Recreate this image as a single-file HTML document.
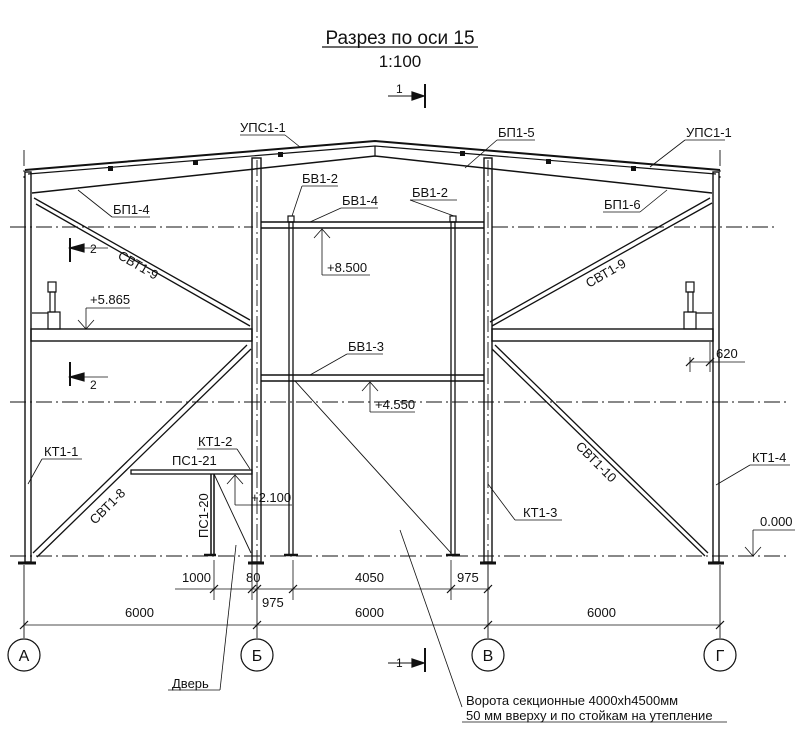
<!DOCTYPE html>
<html><head><meta charset="utf-8"><style>html,body{margin:0;padding:0;background:#fff}svg{display:block}text{font-family:"Liberation Sans",sans-serif;fill:#111}</style></head>
<body>
<svg width="800" height="736" viewBox="0 0 800 736" xmlns="http://www.w3.org/2000/svg" stroke="#111" fill="none" stroke-width="1.2">
<!-- title -->
<text x="400" y="44" font-size="19" text-anchor="middle" stroke="none">Разрез по оси 15</text>
<line x1="322" y1="47" x2="478" y2="47"/>
<text x="400" y="67" font-size="17" text-anchor="middle" stroke="none">1:100</text>
<!-- section marks top -->
<text x="396" y="93" font-size="12" stroke="none">1</text>
<line x1="388" y1="96" x2="424" y2="96" stroke-width="1"/>
<polygon points="424,96 412,92 412,100" fill="#111"/>
<line x1="425" y1="84" x2="425" y2="108" stroke-width="2"/>
<text x="396" y="667" font-size="12" stroke="none">1</text>
<line x1="388" y1="663" x2="424" y2="663" stroke-width="1"/>
<polygon points="424,663 412,659 412,667" fill="#111"/>
<line x1="425" y1="648" x2="425" y2="672" stroke-width="2"/>

<!-- dash-dot axes -->
<g stroke-dasharray="16,4,2,4" stroke-width="0.9">
<line x1="10" y1="227" x2="253" y2="227"/><line x1="492" y1="227" x2="775" y2="227"/>
<line x1="10" y1="402" x2="790" y2="402"/>
<line x1="10" y1="556" x2="790" y2="556"/>
<line x1="24" y1="150" x2="24" y2="178"/><line x1="720" y1="150" x2="720" y2="178"/>
<line x1="257" y1="160" x2="257" y2="560"/><line x1="488" y1="160" x2="488" y2="560"/>
</g>
<!-- grid lines -->
<g stroke-width="0.9">
<line x1="24" y1="565" x2="24" y2="638"/><line x1="257" y1="565" x2="257" y2="638"/>
<line x1="488" y1="565" x2="488" y2="638"/><line x1="720" y1="565" x2="720" y2="638"/>
</g>
<circle cx="24" cy="655" r="16"/><circle cx="257" cy="655" r="16"/>
<circle cx="488" cy="655" r="16"/><circle cx="720" cy="655" r="16"/>
<g font-size="16" text-anchor="middle" stroke="none">
<text x="24" y="661">А</text><text x="257" y="661">Б</text><text x="488" y="661">В</text><text x="720" y="661">Г</text>
</g>

<!-- roof -->
<polyline points="25,170 375,141 720,170" stroke-width="2"/>
<polyline points="28,174 375,146 716,174"/>
<polyline points="32,193 375,156 712,193" stroke-width="1.5"/>
<line x1="375" y1="146" x2="375" y2="156"/>
<!-- purlins -->
<g fill="#111" stroke="none">
<rect x="108" y="166" width="5" height="5"/><rect x="193" y="160" width="5" height="5"/><rect x="278" y="152" width="5" height="5"/>
<rect x="460" y="151" width="5" height="5"/><rect x="546" y="159" width="5" height="5"/><rect x="631" y="166" width="5" height="5"/>
</g>
<!-- outer columns -->
<rect x="25" y="172" width="6" height="390" stroke-width="1.4"/>
<rect x="713" y="172" width="6" height="390" stroke-width="1.4"/>
<line x1="18" y1="563" x2="36" y2="563" stroke-width="3"/><line x1="708" y1="563" x2="724" y2="563" stroke-width="3"/>
<!-- inner columns -->
<rect x="252" y="158" width="9" height="404" stroke-width="1.4"/>
<rect x="484" y="158" width="8" height="404" stroke-width="1.4"/>
<line x1="248" y1="563" x2="264" y2="563" stroke-width="3"/><line x1="480" y1="563" x2="496" y2="563" stroke-width="3"/>
<!-- center frame -->
<line x1="261" y1="222" x2="484" y2="222" stroke-width="1.4"/><line x1="261" y1="228" x2="484" y2="228" stroke-width="1.4"/>
<line x1="261" y1="375" x2="484" y2="375" stroke-width="1.4"/><line x1="261" y1="381" x2="484" y2="381" stroke-width="1.4"/>
<rect x="289" y="222" width="4" height="333" stroke-width="1.3"/>
<rect x="451" y="222" width="4" height="333" stroke-width="1.3"/>
<line x1="284" y1="555" x2="298" y2="555" stroke-width="2.5"/><line x1="446" y1="555" x2="460" y2="555" stroke-width="2.5"/>
<rect x="288" y="216" width="6" height="6"/><rect x="450" y="216" width="6" height="6"/>
<!-- platforms -->
<rect x="31" y="329" width="221" height="12" stroke-width="1.4"/>
<rect x="492" y="329" width="221" height="12" stroke-width="1.4"/>
<!-- diagonals -->
<g stroke-width="1.3">
<line x1="34" y1="198" x2="250" y2="320"/><line x1="36" y1="204" x2="250" y2="326"/>
<line x1="490" y1="322" x2="710" y2="198"/><line x1="492" y1="326" x2="712" y2="203"/>
<line x1="33" y1="553" x2="247" y2="345"/><line x1="37" y1="557" x2="251" y2="349"/>
<line x1="495" y1="345" x2="708" y2="553"/><line x1="492" y1="349" x2="705" y2="556"/>
</g>
<!-- equipment on platforms -->
<rect x="48" y="282" width="8" height="10"/><rect x="50" y="292" width="5" height="20"/><rect x="48" y="312" width="12" height="17"/>
<line x1="32" y1="313" x2="48" y2="313"/>
<rect x="686" y="282" width="8" height="10"/><rect x="688" y="292" width="5" height="20"/><rect x="684" y="312" width="12" height="17"/>
<line x1="696" y1="313" x2="712" y2="313"/>
<!-- stair -->
<rect x="131" y="470" width="121" height="4" stroke-width="1.3"/>
<line x1="211" y1="474" x2="211" y2="555" stroke-width="1.5"/><line x1="214" y1="474" x2="214" y2="555" stroke-width="1.5"/>
<line x1="204" y1="555" x2="216" y2="555" stroke-width="2.5"/>
<line x1="214" y1="474" x2="251" y2="553" stroke-width="0.9"/>
<!-- gate diagonal -->
<line x1="295" y1="381" x2="451" y2="553" stroke-width="0.9"/>
<!-- section 2 marks -->
<line x1="70" y1="238" x2="70" y2="262" stroke-width="2"/><polygon points="70,248 84,244 84,252" fill="#111"/><line x1="84" y1="248" x2="108" y2="248" stroke-width="0.8"/>
<text x="90" y="253" font-size="12" stroke="none">2</text>
<line x1="70" y1="362" x2="70" y2="386" stroke-width="2"/><polygon points="70,377 84,373 84,381" fill="#111"/><line x1="84" y1="377" x2="108" y2="377" stroke-width="0.8"/>
<text x="90" y="389" font-size="12" stroke="none">2</text>

<!-- leaders & labels -->
<g stroke-width="0.8">
<line x1="240" y1="135" x2="285" y2="135"/><line x1="285" y1="135" x2="300" y2="147"/>
<line x1="497" y1="140" x2="535" y2="140"/><line x1="497" y1="140" x2="465" y2="168"/>
<line x1="685" y1="140" x2="725" y2="140"/><line x1="685" y1="140" x2="650" y2="167"/>
<line x1="112" y1="217" x2="150" y2="217"/><line x1="112" y1="217" x2="78" y2="190"/>
<line x1="603" y1="212" x2="640" y2="212"/><line x1="640" y1="212" x2="667" y2="190"/>
<line x1="302" y1="186" x2="338" y2="186"/><line x1="302" y1="186" x2="292" y2="216"/>
<line x1="410" y1="200" x2="457" y2="200"/><line x1="410" y1="200" x2="454" y2="216"/>
<line x1="341" y1="208" x2="378" y2="208"/><line x1="341" y1="208" x2="310" y2="222"/>
<line x1="347" y1="354" x2="383" y2="354"/><line x1="347" y1="354" x2="310" y2="375"/>
<line x1="42" y1="459" x2="82" y2="459"/><line x1="42" y1="459" x2="28" y2="484"/>
<line x1="197" y1="449" x2="237" y2="449"/><line x1="237" y1="449" x2="250" y2="469"/>
<line x1="515" y1="520" x2="562" y2="520"/><line x1="515" y1="520" x2="488" y2="484"/>
<line x1="750" y1="465" x2="790" y2="465"/><line x1="750" y1="465" x2="716" y2="485"/>
<line x1="690" y1="362" x2="745" y2="362"/><line x1="690" y1="357" x2="690" y2="372"/>
<line x1="710" y1="342" x2="710" y2="372"/>
<line x1="220" y1="690" x2="236" y2="545"/><line x1="168" y1="690" x2="220" y2="690"/>
<line x1="462" y1="707" x2="400" y2="530"/>
<line x1="462" y1="722" x2="727" y2="722"/>
<!-- elevation markers -->
<line x1="86" y1="308" x2="86" y2="329"/><line x1="86" y1="308" x2="130" y2="308"/><polyline points="78,320 86,329 94,320"/>
<line x1="322" y1="229" x2="322" y2="275"/><line x1="322" y1="275" x2="370" y2="275"/><polyline points="314,238 322,229 330,238"/>
<line x1="370" y1="382" x2="370" y2="412"/><line x1="370" y1="412" x2="415" y2="412"/><polyline points="362,391 370,382 378,391"/>
<line x1="235" y1="475" x2="235" y2="505"/><line x1="235" y1="505" x2="292" y2="505"/><polyline points="227,484 235,475 243,484"/>
<line x1="753" y1="530" x2="753" y2="556"/><line x1="753" y1="530" x2="795" y2="530"/><polyline points="745,547 753,556 761,547"/>
<!-- dimension lines -->
<line x1="175" y1="589" x2="490" y2="589"/>
<line x1="24" y1="625" x2="720" y2="625"/>
<line x1="214" y1="560" x2="214" y2="600"/><line x1="252" y1="560" x2="252" y2="600"/><line x1="257" y1="560" x2="257" y2="600"/>
<line x1="293" y1="560" x2="293" y2="600"/><line x1="451" y1="560" x2="451" y2="600"/><line x1="488" y1="560" x2="488" y2="600"/>
</g>
<g stroke-width="1.2">
<line x1="210" y1="593" x2="218" y2="585"/><line x1="248" y1="593" x2="256" y2="585"/><line x1="253" y1="593" x2="261" y2="585"/>
<line x1="289" y1="593" x2="297" y2="585"/><line x1="447" y1="593" x2="455" y2="585"/><line x1="484" y1="593" x2="492" y2="585"/>
<line x1="20" y1="629" x2="28" y2="621"/><line x1="253" y1="629" x2="261" y2="621"/><line x1="484" y1="629" x2="492" y2="621"/><line x1="716" y1="629" x2="724" y2="621"/>
<line x1="686" y1="366" x2="694" y2="358"/><line x1="706" y1="366" x2="714" y2="358"/>
</g>
<g font-size="13" stroke="none">
<text x="240" y="132">УПС1-1</text><text x="498" y="137">БП1-5</text><text x="686" y="137">УПС1-1</text>
<text x="113" y="214">БП1-4</text><text x="604" y="209">БП1-6</text>
<text x="302" y="183">БВ1-2</text><text x="412" y="197">БВ1-2</text><text x="342" y="205">БВ1-4</text>
<text x="348" y="351">БВ1-3</text>
<text x="327" y="272">+8.500</text><text x="90" y="304">+5.865</text><text x="375" y="409">+4.550</text><text x="251" y="502">+2.100</text>
<text x="760" y="526">0.000</text><text x="716" y="358">620</text>
<text x="44" y="456">КТ1-1</text><text x="198" y="446">КТ1-2</text><text x="172" y="465">ПС1-21</text>
<text x="523" y="517">КТ1-3</text><text x="752" y="462">КТ1-4</text>
<text x="182" y="582">1000</text><text x="246" y="582">80</text><text x="355" y="582">4050</text><text x="457" y="582">975</text>
<text x="262" y="607">975</text>
<text x="125" y="617">6000</text><text x="355" y="617">6000</text><text x="587" y="617">6000</text>
<text x="172" y="688">Дверь</text>
<text x="466" y="705">Ворота секционные 4000xh4500мм</text>
<text x="466" y="720">50 мм вверху и по стойкам на утепление</text>
<text transform="translate(117,258) rotate(30)">СВТ1-9</text>
<text transform="translate(589,288) rotate(-30)">СВТ1-9</text>
<text transform="translate(95,525) rotate(-45)">СВТ1-8</text>
<text transform="translate(575,447) rotate(45)">СВТ1-10</text>
<text transform="translate(208,538) rotate(-90)">ПС1-20</text>
</g>
</svg>
</body></html>
